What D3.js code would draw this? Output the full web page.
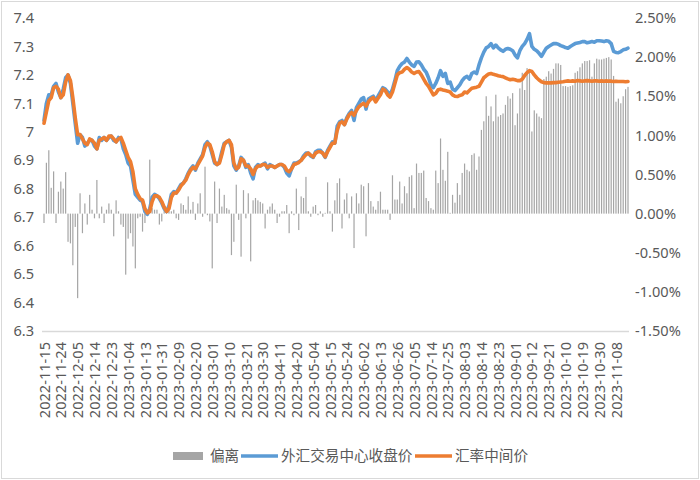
<!DOCTYPE html>
<html>
<head>
<meta charset="utf-8">
<script src="https://cdn.jsdelivr.net/npm/d3@7"></script>
<style>
  body { margin: 0; background: #fff; }
  svg text { font-family: "Noto Sans", "Noto Sans CJK SC", sans-serif; fill: #595959; }
</style>
</head>
<body>
<div id="chart"></div>
<script>
// category labels shown on the x axis (one every 7 trading days)
const tickLabels = ['2022-11-15','2022-11-24','2022-12-05','2022-12-14','2022-12-23','2023-01-04','2023-01-13',
  '2023-01-31','2023-02-09','2023-02-20','2023-03-01','2023-03-10','2023-03-21','2023-03-30','2023-04-11',
  '2023-04-20','2023-05-04','2023-05-15','2023-05-24','2023-06-02','2023-06-13','2023-06-26','2023-07-05',
  '2023-07-14','2023-07-25','2023-08-03','2023-08-14','2023-08-23','2023-09-01','2023-09-12','2023-09-21',
  '2023-10-10','2023-10-19','2023-10-30','2023-11-08'];

const leftTicks = [6.3, 6.4, 6.5, 6.6, 6.7, 6.8, 6.9, 7, 7.1, 7.2, 7.3, 7.4];
const rightTicks = [-1.5, -1, -0.5, 0, 0.5, 1, 1.5, 2, 2.5];

// 外汇交易中心收盘价
const closePrice = [
  7.04, 7.10, 7.13, 7.13, 7.16, 7.17, 7.14, 7.12, 7.15, 7.19,
  7.20, 7.17, 7.10, 7.03, 6.96, 6.99, 6.98, 6.95, 6.96, 6.97,
  6.97, 6.95, 6.94, 6.98, 6.97, 6.98, 6.97, 6.98, 6.985, 6.97,
  6.965, 6.98, 6.975, 6.94, 6.92, 6.89, 6.88, 6.83, 6.78, 6.77,
  6.76, 6.755, 6.72, 6.71, 6.73, 6.77, 6.78, 6.775, 6.765, 6.75,
  6.73, 6.72, 6.74, 6.78, 6.79, 6.785, 6.80, 6.815, 6.82, 6.835,
  6.855, 6.87, 6.88, 6.865, 6.89, 6.905, 6.92, 6.955, 6.965, 6.95,
  6.92, 6.89, 6.885, 6.895, 6.93, 6.96, 6.965, 6.97, 6.945, 6.88,
  6.865, 6.88, 6.91, 6.90, 6.875, 6.885, 6.855, 6.835, 6.875, 6.885,
  6.88, 6.885, 6.89, 6.87, 6.885, 6.88, 6.875, 6.88, 6.885, 6.885,
  6.875, 6.855, 6.845, 6.87, 6.89, 6.89, 6.895, 6.90, 6.915, 6.925,
  6.925, 6.915, 6.91, 6.93, 6.935, 6.935, 6.925, 6.91, 6.935, 6.95,
  6.965, 6.96, 7.02, 7.035, 7.04, 7.025, 7.05, 7.065, 7.075, 7.04,
  7.085, 7.10, 7.115, 7.12, 7.08, 7.115, 7.12, 7.125, 7.11, 7.125,
  7.14, 7.155, 7.15, 7.14, 7.13, 7.15, 7.18, 7.215, 7.23, 7.24,
  7.245, 7.258, 7.245, 7.235, 7.23, 7.245, 7.246, 7.235, 7.22, 7.21,
  7.19, 7.165, 7.155, 7.17, 7.19, 7.215, 7.195, 7.205, 7.17, 7.175,
  7.15, 7.145, 7.155, 7.165, 7.18, 7.19, 7.195, 7.185, 7.205, 7.21,
  7.205, 7.235, 7.26, 7.28, 7.295, 7.30, 7.31, 7.295, 7.305, 7.295,
  7.288, 7.283, 7.29, 7.293, 7.29, 7.285, 7.27, 7.26, 7.285, 7.30,
  7.31, 7.325, 7.345, 7.30, 7.29, 7.285, 7.276, 7.265, 7.28, 7.294,
  7.30, 7.305, 7.31, 7.31, 7.308, 7.303, 7.30, 7.296, 7.294, 7.30,
  7.305, 7.31, 7.312, 7.314, 7.317, 7.317, 7.313, 7.315, 7.317, 7.315,
  7.32, 7.32, 7.319, 7.317, 7.32, 7.318, 7.31, 7.283, 7.279, 7.278,
  7.282, 7.288, 7.29, 7.294
];

// 汇率中间价
const midPrice = [
  7.03, 7.07, 7.11, 7.12, 7.155, 7.16, 7.15, 7.12, 7.13, 7.175,
  7.20, 7.18, 7.12, 7.05, 6.99, 6.99, 6.975, 6.96, 6.955, 6.975,
  6.97, 6.96, 6.94, 6.97, 6.975, 6.98, 6.97, 6.985, 6.985, 6.975,
  6.965, 6.975, 6.98, 6.96, 6.935, 6.91, 6.895, 6.86, 6.80, 6.78,
  6.765, 6.76, 6.73, 6.715, 6.72, 6.755, 6.775, 6.775, 6.77, 6.755,
  6.735, 6.72, 6.73, 6.77, 6.785, 6.785, 6.795, 6.81, 6.82, 6.83,
  6.85, 6.865, 6.875, 6.87, 6.885, 6.90, 6.915, 6.945, 6.96, 6.955,
  6.93, 6.895, 6.885, 6.89, 6.92, 6.955, 6.965, 6.97, 6.955, 6.89,
  6.87, 6.875, 6.905, 6.90, 6.88, 6.88, 6.87, 6.85, 6.87, 6.88,
  6.88, 6.885, 6.885, 6.875, 6.88, 6.88, 6.875, 6.88, 6.885, 6.885,
  6.88, 6.865, 6.86, 6.87, 6.885, 6.888, 6.892, 6.90, 6.91, 6.92,
  6.925, 6.918, 6.912, 6.925, 6.93, 6.93, 6.925, 6.912, 6.93, 6.945,
  6.96, 6.96, 7.005, 7.03, 7.035, 7.025, 7.045, 7.06, 7.068, 7.058,
  7.075, 7.088, 7.095, 7.10, 7.09, 7.105, 7.115, 7.12, 7.105, 7.118,
  7.13, 7.15, 7.145, 7.13, 7.122, 7.14, 7.17, 7.20, 7.208, 7.21,
  7.22, 7.226, 7.22, 7.21, 7.205, 7.21, 7.212, 7.20, 7.185, 7.17,
  7.16, 7.145, 7.13, 7.135, 7.148, 7.15, 7.147, 7.145, 7.143, 7.14,
  7.13, 7.125, 7.124, 7.128, 7.13, 7.14, 7.137, 7.145, 7.153, 7.155,
  7.157, 7.16, 7.175, 7.19, 7.197, 7.203, 7.205, 7.202, 7.20, 7.197,
  7.195, 7.194, 7.19, 7.186, 7.183, 7.185, 7.183, 7.18, 7.18, 7.185,
  7.198, 7.208, 7.215, 7.212, 7.20, 7.19, 7.182, 7.176, 7.173, 7.172,
  7.172, 7.172, 7.173, 7.173, 7.174, 7.175, 7.176, 7.178, 7.179, 7.178,
  7.179, 7.178, 7.180, 7.179, 7.178, 7.179, 7.180, 7.179, 7.178, 7.179,
  7.179, 7.178, 7.179, 7.178, 7.179, 7.178, 7.178, 7.177, 7.178, 7.177,
  7.177, 7.177, 7.176, 7.177
];

// 偏离 (%)
const deviation = [
  -0.12, 0.65, 0.81, 0.33, 0.54, -0.12, 0.28, 0.41, 0.32, 0.53,
  -0.36, -0.38, -0.66, -0.17, -1.08, 0.26, -0.25, 0.13, -0.14, 0.24,
  0.05, -0.06, 0.43, -0.06, 0.09, -0.12, 0.05, 0.13, 0.05, -0.29,
  0.17, 0.03, -0.14, -0.17, -0.78, -0.32, -0.25, -0.42, -0.70, -0.06,
  -0.04, -0.23, -0.12, 0.05, 0.69, 0.07, 0.05, 0.05, -0.14, -0.10,
  0.07, 0.05, 0.09, 0.03, 0.05, -0.06, -0.08, 0.13, 0.11, 0.05,
  0.22, 0.05, 0.15, -0.08, 0.13, 0.26, -0.04, 0.60, -0.02, -0.10,
  -0.70, 0.41, -0.12, 0.32, 0.09, 0.24, 0.07, 0.05, -0.53, -0.36,
  0.37, -0.08, -0.55, 0.30, -0.06, 0.26, -0.61, 0.17, 0.20, 0.17,
  0.15, 0.13, -0.19, 0.05, 0.09, 0.13, 0.05, -0.12, -0.04, 0.03,
  0.03, 0.11, -0.25, 0.03, -0.02, 0.32, -0.21, 0.22, 0.20, 0.47,
  0.03, -0.04, 0.09, 0.11, -0.02, 0.03, -0.04, 0.01, 0.40, 0.03,
  -0.23, 0.17, 0.39, 0.45, -0.19, 0.18, 0.26, -0.06, 0.22, -0.44,
  0.26, 0.13, 0.37, 0.35, -0.29, 0.39, 0.16, 0.09, 0.05, 0.16,
  0.28, 0.05, 0.05, 0.05, -0.08, 0.49, 0.18, 0.18, 0.41, 0.13,
  0.35, 0.26, 0.47, 0.49, 0.07, 0.64, 0.52, 0.52, 0.55, 0.20,
  0.16, 0.07, 0.05, 0.55, 0.39, 0.96, 0.56, 0.42, 0.79, 0.01,
  0.24, 0.14, 0.39, 0.24, 0.52, 0.64, 0.56, 0.54, 0.75, 0.77,
  0.56, 0.73, 1.07, 1.18, 1.50, 1.25, 1.37, 1.18, 1.52, 1.24,
  1.26, 1.28, 1.39, 1.50, 1.47, 1.54, 1.13, 1.28, 1.60, 1.80,
  1.58, 1.86, 1.82, 1.05, 1.32, 1.28, 1.24, 1.22, 1.72, 1.75,
  1.82, 1.79, 1.85, 1.92, 1.92, 1.90, 1.63, 1.63, 1.62, 1.63,
  1.64, 1.80, 1.82, 1.87, 1.92, 1.95, 1.95, 1.96, 1.75, 1.92,
  1.98, 1.97, 1.97, 1.98, 1.99, 2.00, 1.97, 1.76, 1.43, 1.47,
  1.41, 1.50, 1.59, 1.62
];

let width = 700, height = 480;
let plot = { left: 44, right: 628, top: 18, bottom: 331 };
let fontSize = '14.6px';

let svg = d3.select('#chart')
  .append('svg')
  .attr('width', width)
  .attr('height', height);

// chart frame
svg.append('rect')
  .attr('x', 1.5).attr('y', 1.5)
  .attr('width', width - 3).attr('height', height - 3)
  .attr('fill', '#fff')
  .attr('stroke', '#d9d9d9');

// scales
let x = d3.scaleLinear().domain([0, closePrice.length - 1]).range([plot.left, plot.right]);
let yLeft = d3.scaleLinear().domain([6.3, 7.4]).range([plot.bottom, plot.top]);
let yRight = d3.scaleLinear().domain([-1.5, 2.5]).range([plot.bottom, plot.top]);

// deviation bars
svg.append('g')
  .selectAll('rect')
  .data(deviation)
  .join('rect')
    .attr('x', (d, i) => x(i) - 0.6)
    .attr('width', 1.2)
    .attr('y', d => yRight(Math.max(0, d)))
    .attr('height', d => Math.abs(yRight(d) - yRight(0)))
    .attr('fill', '#a5a5a5');

// bottom axis line
svg.append('line')
  .attr('x1', plot.left - 2).attr('x2', plot.right + 1)
  .attr('y1', plot.bottom + 0.5).attr('y2', plot.bottom + 0.5)
  .attr('stroke', '#d9d9d9')
  .attr('stroke-width', 1.5);

// left axis
let gLeft = svg.append('g')
  .attr('transform', 'translate(34,0)')
  .call(d3.axisLeft(yLeft).tickValues(leftTicks).tickSize(0).tickPadding(0).tickFormat(d => String(d)));
gLeft.select('.domain').remove();
gLeft.selectAll('text').attr('font-size', fontSize).attr('font-family', null).attr('fill', '#595959');

// right axis
let gRight = svg.append('g')
  .attr('transform', 'translate(635,0)')
  .call(d3.axisRight(yRight).tickValues(rightTicks).tickSize(0).tickPadding(0).tickFormat(d => d.toFixed(2) + '%'));
gRight.select('.domain').remove();
gRight.selectAll('text').attr('font-size', fontSize).attr('font-family', null).attr('fill', '#595959');

// x tick labels (rotated)
svg.append('g')
  .selectAll('text')
  .data(tickLabels)
  .join('text')
    .attr('transform', (d, k) => 'translate(' + (x(k * 7) + 0.5) + ',342) rotate(-90)')
    .attr('text-anchor', 'end')
    .attr('dy', '0.35em')
    .attr('font-size', fontSize)
    .text(d => d);

// lines
let lineClose = d3.line().x((d, i) => x(i)).y(d => yLeft(d));
svg.append('path')
  .datum(closePrice)
  .attr('d', lineClose)
  .attr('fill', 'none')
  .attr('stroke', '#5b9bd5')
  .attr('stroke-width', 3.6)
  .attr('stroke-linejoin', 'round')
  .attr('stroke-linecap', 'round');

svg.append('path')
  .datum(midPrice)
  .attr('d', lineClose)
  .attr('fill', 'none')
  .attr('stroke', '#ed7d31')
  .attr('stroke-width', 3.6)
  .attr('stroke-linejoin', 'round')
  .attr('stroke-linecap', 'round');

// legend
let legendY = 456;
let legend = svg.append('g');
legend.append('rect')
  .attr('x', 173).attr('y', legendY - 4)
  .attr('width', 30).attr('height', 8)
  .attr('fill', '#a5a5a5');
legend.append('text').attr('x', 210).attr('y', legendY).attr('dy', '0.35em')
  .attr('font-size', fontSize).text('偏离');

legend.append('line')
  .attr('x1', 241).attr('x2', 278).attr('y1', legendY).attr('y2', legendY)
  .attr('stroke', '#5b9bd5').attr('stroke-width', 3.6);
legend.append('text').attr('x', 281).attr('y', legendY).attr('dy', '0.35em')
  .attr('font-size', fontSize).text('外汇交易中心收盘价');

legend.append('line')
  .attr('x1', 415).attr('x2', 452).attr('y1', legendY).attr('y2', legendY)
  .attr('stroke', '#ed7d31').attr('stroke-width', 3.6);
legend.append('text').attr('x', 455).attr('y', legendY).attr('dy', '0.35em')
  .attr('font-size', fontSize).text('汇率中间价');
</script>
</body>
</html>
